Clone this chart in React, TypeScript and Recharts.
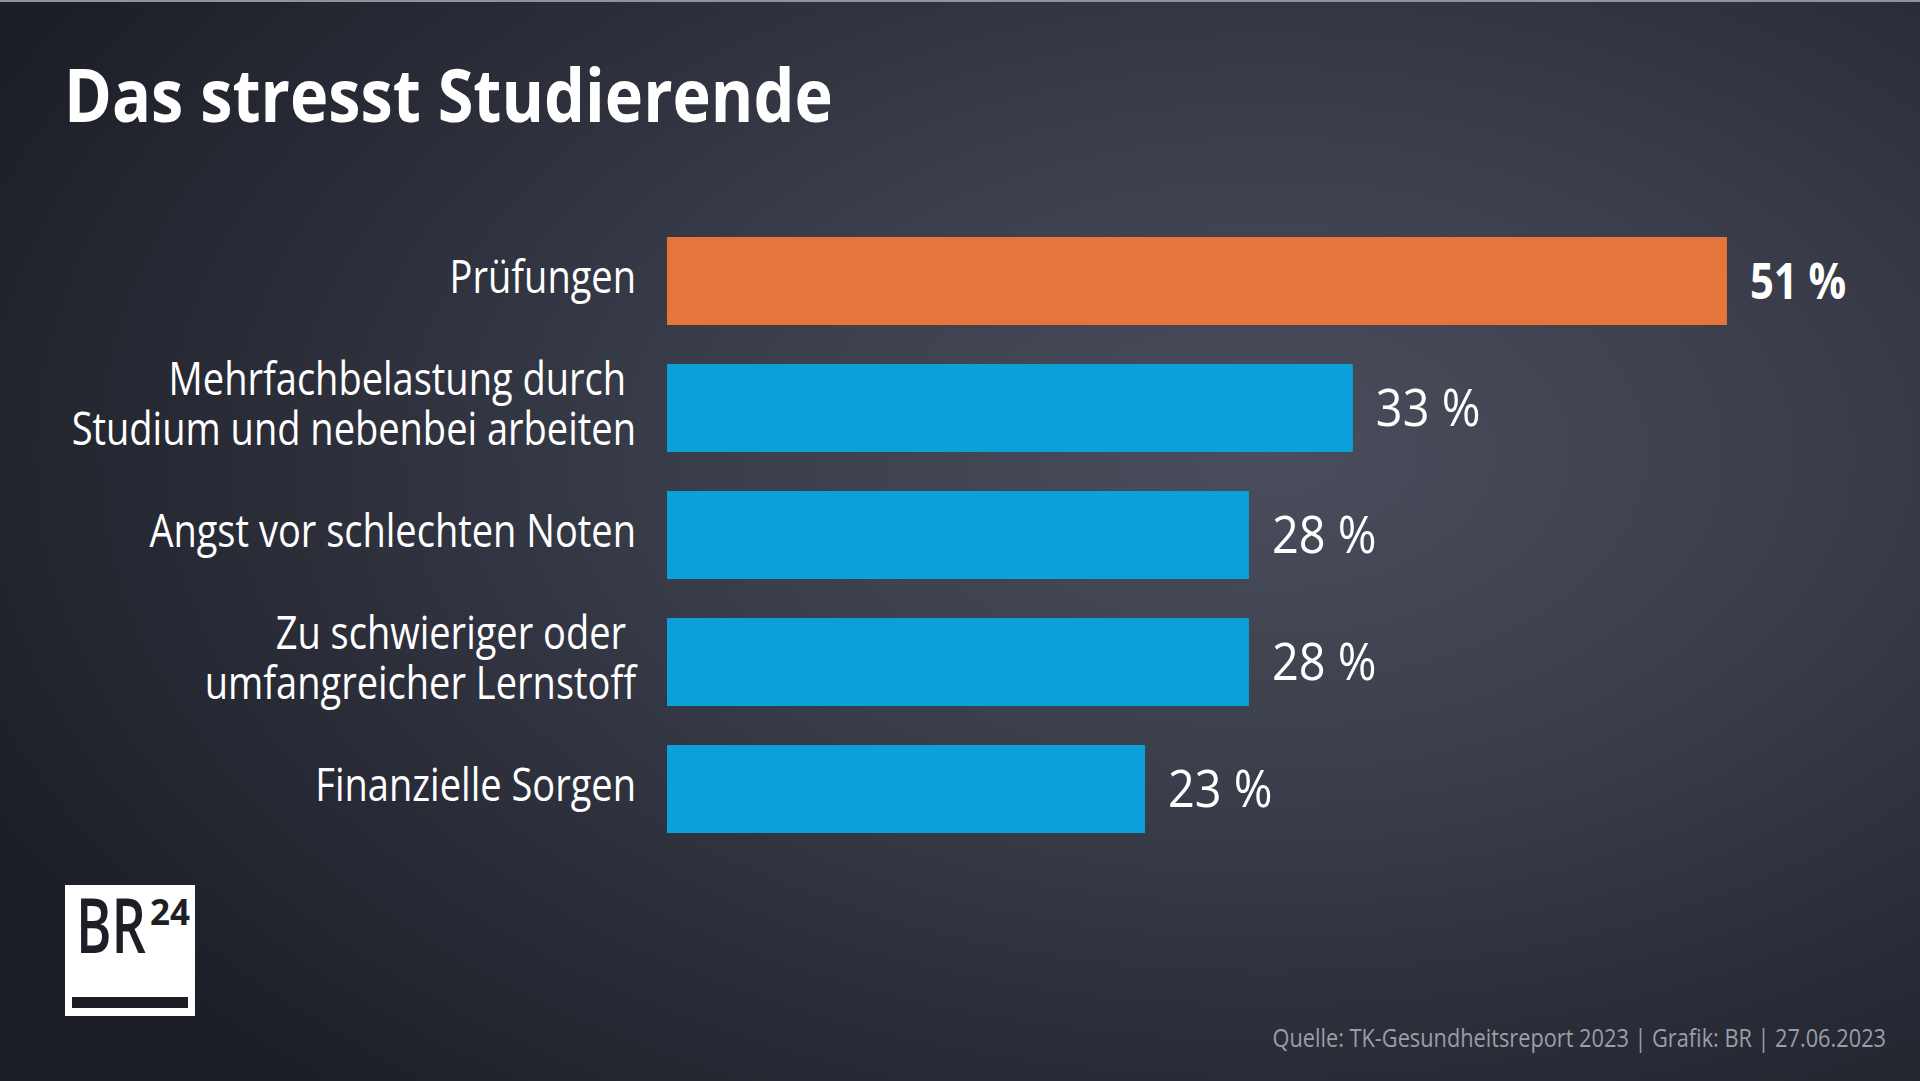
import React from "react";
import { BarChart, Bar, XAxis, YAxis, Cell, LabelList } from "recharts";

// Survey: what stresses students (TK-Gesundheitsreport 2023)
const categories = [
  "Prüfungen",
  "Mehrfachbelastung durch \nStudium und nebenbei arbeiten",
  "Angst vor schlechten Noten",
  "Zu schwieriger oder \numfangreicher Lernstoff",
  "Finanzielle Sorgen",
];
const shares = [51, 33, 28, 28, 23];
const highlighted = [true, false, false, false, false];

const title = "Das stresst Studierende";
const source = "Quelle: TK-Gesundheitsreport 2023 | Grafik: BR | 27.06.2023";

const ORANGE = "#e5753b";
const BLUE = "#0ba0da";
const FONT = "'Open Sans', 'Noto Sans', sans-serif";

const data = categories.map((name, i) => ({
  name,
  value: shares[i],
  hot: highlighted[i],
}));

const CategoryTick = (props: any) => {
  const { x, y, payload } = props;
  const lines = String(payload.value).split("\n");
  const lineH = 50;
  const first = -((lines.length - 1) * lineH) / 2;
  return (
    <g transform={`translate(${x},${y}) scale(0.845,1)`}>
      <text
        textAnchor="end"
        fill="#ffffff"
        fontSize={45}
        fontWeight={400}
        fontFamily={FONT}
        style={{ whiteSpace: "pre" }}
      >
        {lines.map((line, i) => (
          <tspan key={i} x={0} y={first + i * lineH} dy="0.28em">
            {line}
          </tspan>
        ))}
      </text>
    </g>
  );
};

const ValueLabel = (props: any) => {
  const { x, y, width, height, value, index } = props;
  const bold = highlighted[index];
  return (
    <g transform={`translate(${x + width + 23},${y + height / 2}) scale(${bold ? 0.82 : 0.92},1)`}>
      <text
        x={0}
        y={0}
        dy="0.35em"
        fill="#ffffff"
        fontSize={51}
        fontWeight={bold ? 700 : 400}
        fontFamily={FONT}
      >
        {`${value} %`}
      </text>
    </g>
  );
};

export default function App() {
  return (
    <div
      style={{
        position: "absolute",
        left: 0,
        top: 0,
        width: 1920,
        height: 1081,
        overflow: "hidden",
        background:
          "radial-gradient(ellipse 75% 80% at 66% 42%, #4a4e5c 0%, #3c404d 35%, #2a2d38 70%, #1c1e26 100%)",
      }}
    >
      <div style={{ position: "absolute", left: 0, top: 0, width: 1920, height: 2, background: "#8e939c" }} />
      <div style={{ position: "absolute", left: 0, top: 0 }}>
        <BarChart
          width={1920}
          height={1081}
          data={data}
          layout="vertical"
          margin={{ top: 217, right: 6, bottom: 229, left: 0 }}
        >
          <XAxis type="number" domain={[0, 60]} hide />
          <YAxis
            type="category"
            dataKey="name"
            width={667}
            axisLine={false}
            tickLine={false}
            tickSize={0}
            tickMargin={31}
            tick={<CategoryTick />}
            interval={0}
          />
          <Bar dataKey="value" barSize={88} isAnimationActive={false}>
            {data.map((d, i) => (
              <Cell key={i} fill={d.hot ? ORANGE : BLUE} />
            ))}
            <LabelList dataKey="value" content={<ValueLabel />} />
          </Bar>
        </BarChart>
      </div>
      <svg
        width={1920}
        height={1081}
        style={{ position: "absolute", left: 0, top: 0, pointerEvents: "none" }}
      >
        <g transform={`translate(64,122) scale(0.876,1)`}>
          <text x={0} y={0} fill="#ffffff" fontSize={74} fontWeight={700} fontFamily={FONT}>
            {title}
          </text>
        </g>
        <g transform={`translate(1886,1047) scale(0.87,1)`}>
          <text x={0} y={0} textAnchor="end" fill="#9a9ea8" fontSize={25} fontWeight={400} fontFamily={FONT}>
            {source}
          </text>
        </g>
        <rect x={65} y={885} width={130} height={131} fill="#ffffff" />
        <text
          x={76}
          y={953}
          fill="#1e1f26"
          fontSize={76}
          fontWeight={600}
          fontFamily={FONT}
          textLength={70}
          lengthAdjust="spacingAndGlyphs"
        >
          BR
        </text>
        <text x={150} y={925} fill="#1e1f26" fontSize={35} fontWeight={700} fontFamily={FONT}>
          24
        </text>
        <rect x={72} y={997} width={116} height={11} fill="#1e1f26" />
      </svg>
    </div>
  );
}
